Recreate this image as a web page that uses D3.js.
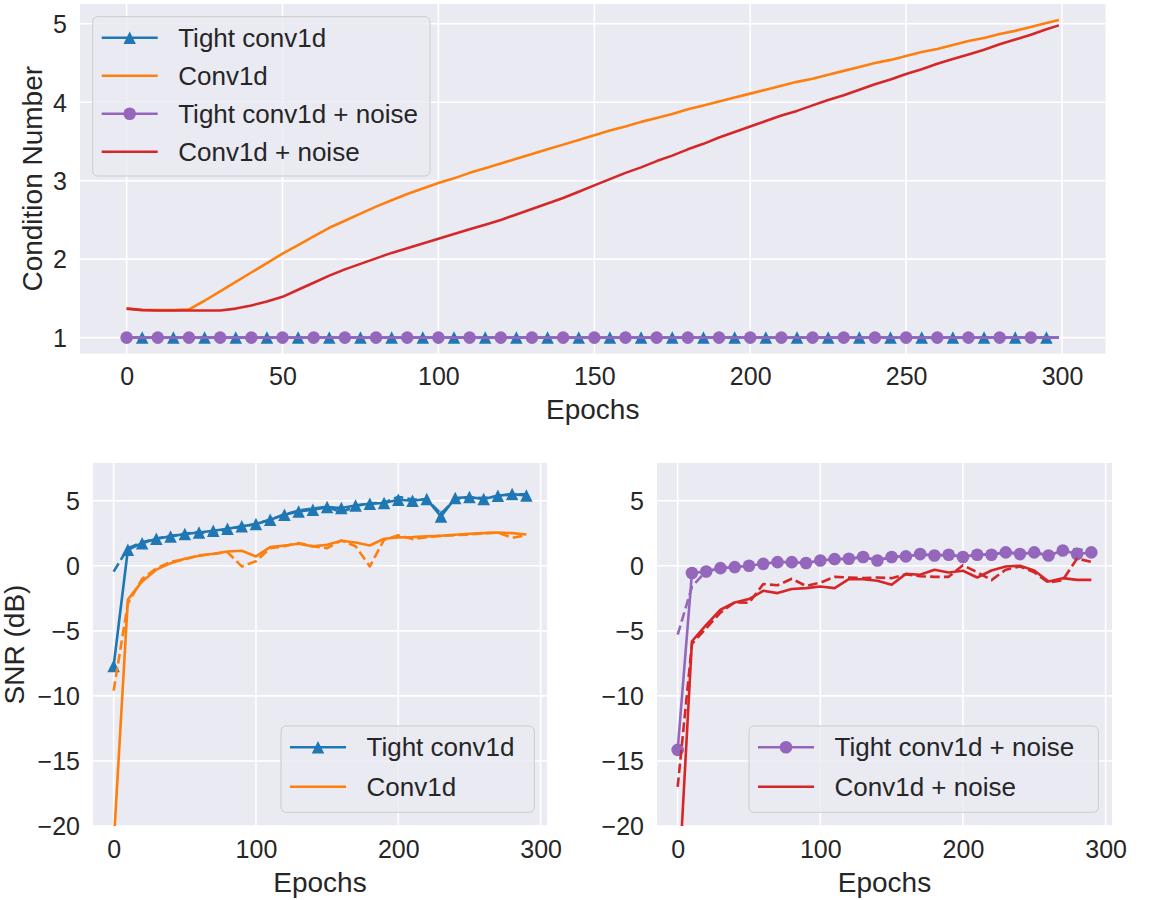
<!DOCTYPE html>
<html>
<head>
<meta charset="utf-8">
<script src="https://cdn.jsdelivr.net/npm/d3@7"></script>
<style>
  html, body { margin: 0; padding: 0; background: #ffffff; }
  svg { display: block; font-family: "Liberation Sans", Arial, Helvetica, sans-serif; }
</style>
</head>
<body>
<svg id="fig" width="1151" height="900"></svg>
<script>
// ---------- Condition number over training (sampled every 5 epochs, last epoch 299) ----------
const condEpochs = [0, 5, 10, 15, 20, 25, 30, 35, 40, 45, 50, 55, 60, 65, 70, 75, 80, 85, 90, 95,
  100, 105, 110, 115, 120, 125, 130, 135, 140, 145, 150, 155, 160, 165, 170, 175, 180, 185, 190, 195,
  200, 205, 210, 215, 220, 225, 230, 235, 240, 245, 250, 255, 260, 265, 270, 275, 280, 285, 290, 295, 299];

const condTight = [1, 1, 1, 1, 1, 1, 1, 1, 1, 1, 1, 1, 1, 1, 1, 1, 1, 1, 1, 1,
  1, 1, 1, 1, 1, 1, 1, 1, 1, 1, 1, 1, 1, 1, 1, 1, 1, 1, 1, 1,
  1, 1, 1, 1, 1, 1, 1, 1, 1, 1, 1, 1, 1, 1, 1, 1, 1, 1, 1, 1, 1];

const condConv = [1.37, 1.355, 1.35, 1.35, 1.36, 1.47, 1.59, 1.71, 1.83, 1.95, 2.07, 2.18, 2.29, 2.40, 2.49, 2.58, 2.67, 2.75, 2.83, 2.90,
  2.97, 3.03, 3.10, 3.16, 3.22, 3.28, 3.34, 3.40, 3.46, 3.52, 3.58, 3.64, 3.69, 3.75, 3.80, 3.85, 3.91, 3.96, 4.01, 4.06,
  4.11, 4.16, 4.21, 4.26, 4.30, 4.35, 4.40, 4.45, 4.50, 4.54, 4.59, 4.64, 4.68, 4.73, 4.78, 4.82, 4.87, 4.91, 4.96, 5.01, 5.05];

const condTightNoise = [1, 1, 1, 1, 1, 1, 1, 1, 1, 1, 1, 1, 1, 1, 1, 1, 1, 1, 1, 1,
  1, 1, 1, 1, 1, 1, 1, 1, 1, 1, 1, 1, 1, 1, 1, 1, 1, 1, 1, 1,
  1, 1, 1, 1, 1, 1, 1, 1, 1, 1, 1, 1, 1, 1, 1, 1, 1, 1, 1, 1, 1];

const condConvNoise = [1.37, 1.35, 1.345, 1.345, 1.345, 1.345, 1.345, 1.37, 1.41, 1.46, 1.52, 1.61, 1.70, 1.79, 1.87, 1.94, 2.01, 2.08, 2.14, 2.20,
  2.26, 2.32, 2.38, 2.44, 2.50, 2.57, 2.64, 2.71, 2.78, 2.86, 2.94, 3.02, 3.10, 3.17, 3.25, 3.32, 3.40, 3.47, 3.55, 3.62,
  3.69, 3.76, 3.83, 3.89, 3.96, 4.03, 4.09, 4.16, 4.23, 4.29, 4.36, 4.42, 4.49, 4.55, 4.61, 4.67, 4.74, 4.80, 4.86, 4.93, 4.98];

const condXTicks = [0, 50, 100, 150, 200, 250, 300];
const condYTicks = [1, 2, 3, 4, 5];

// ---------- SNR (dB), evaluated every 10 epochs; solid = train, dashed = validation ----------
const snrEpochs = [0, 10, 20, 30, 40, 50, 60, 70, 80, 90, 100, 110, 120, 130, 140,
  150, 160, 170, 180, 190, 200, 210, 220, 230, 240, 250, 260, 270, 280, 290];

const snrTight = [-7.7, 1.23, 1.74, 2.08, 2.26, 2.44, 2.56, 2.69, 2.85, 3.03, 3.21, 3.54, 3.92, 4.18, 4.31,
  4.51, 4.44, 4.64, 4.77, 4.82, 5.08, 5.0, 5.13, 3.79, 5.21, 5.28, 5.13, 5.38, 5.51, 5.41];
const snrTightDash = [-0.45, 1.35, 1.8, 2.1, 2.3, 2.45, 2.6, 2.4, 2.85, 3.0, 3.2, 3.55, 3.95, 4.25, 4.4,
  4.55, 4.1, 4.6, 4.8, 4.85, 5.3, 5.1, 5.1, 4.0, 5.1, 5.25, 5.2, 5.35, 5.5, 5.5];

const snrConv = [-21.5, -2.6, -1.2, -0.3, 0.2, 0.54, 0.77, 0.92, 1.1, 1.15, 0.72, 1.44, 1.56, 1.69, 1.49,
  1.62, 1.92, 1.79, 1.56, 2.08, 2.18, 2.2, 2.26, 2.31, 2.38, 2.46, 2.51, 2.56, 2.51, 2.41];
const snrConvDash = [-9.6, -2.9, -1.0, -0.2, 0.3, 0.5, 0.8, 0.9, 1.05, -0.05, 0.35, 1.35, 1.5, 1.75, 1.5,
  1.36, 1.95, 1.5, -0.05, 2.0, 2.35, 2.05, 2.2, 2.3, 2.35, 2.4, 2.5, 2.55, 2.15, 2.35];

const snrTightNoise = [-14.15, -0.56, -0.44, -0.18, -0.1, 0.0, 0.15, 0.28, 0.28, 0.21, 0.41, 0.51, 0.54, 0.67, 0.41,
  0.67, 0.72, 0.9, 0.79, 0.85, 0.67, 0.85, 0.85, 1.03, 0.9, 1.03, 0.79, 1.18, 0.9, 1.03];
const snrTightNoiseDash = [-5.3, -1.6, -0.4, -0.2, -0.1, 0.0, 0.2, 0.3, 0.25, 0.2, 0.4, 0.5, 0.55, 0.65, 0.45,
  0.65, 0.75, 0.85, 0.8, 0.85, 0.7, 0.85, 0.9, 1.05, 0.95, 1.0, 0.8, 1.15, 1.3, 1.1];

const snrConvNoise = [-26.0, -5.8, -4.54, -3.38, -2.82, -2.56, -1.92, -2.1, -1.79, -1.72, -1.59, -1.72, -1.03, -1.03, -1.15,
  -1.46, -0.62, -0.69, -0.31, -0.51, -0.38, -0.9, -0.36, -0.05, 0.0, -0.36, -1.21, -0.95, -1.08, -1.08];
const snrConvNoiseDash = [-17.0, -6.0, -4.8, -3.6, -2.8, -2.85, -1.4, -1.5, -1.0, -1.55, -1.3, -0.85, -0.9, -0.95, -0.9,
  -0.95, -0.65, -0.8, -0.85, -0.85, 0.05, -0.5, -1.1, -0.3, -0.05, -0.5, -1.3, -1.1, 0.55, 0.3];

const snrXTicks = [0, 100, 200, 300];
const snrYTicks = [-20, -15, -10, -5, 0, 5];

// ---------- styling ----------
const COLORS = { blue: "#1f77b4", orange: "#ff7f0e", purple: "#9467bd", red: "#d62728" };
const BG = "#eaeaf2";
const TEXT = "#262626";
const TICK_FS = 25;
const LABEL_FS = 28;
const LEGEND_FS = 26;
const LW = 2.6;
const TRI = 12.5;
const DOT_R = 6.3;
const intFmt = d3.format("d");

const svg = d3.select("#fig");

// pad a data extent the way matplotlib autoscale does (5% each side)
function padded(lo, hi) {
  const m = (hi - lo) * 0.05;
  return [lo - m, hi + m];
}

function makeAxes(id, box, xDomain, yDomain, xTicks, yTicks) {
  const g = svg.append("g");
  const x = d3.scaleLinear().domain(xDomain).range([box.left, box.right]);
  const y = d3.scaleLinear().domain(yDomain).range([box.bottom, box.top]);

  g.append("rect")
    .attr("x", box.left).attr("y", box.top)
    .attr("width", box.right - box.left).attr("height", box.bottom - box.top)
    .attr("fill", BG);

  // white grid
  g.append("g").selectAll("line").data(xTicks).join("line")
    .attr("x1", d => x(d)).attr("x2", d => x(d))
    .attr("y1", box.top).attr("y2", box.bottom)
    .attr("stroke", "#ffffff").attr("stroke-width", 1.6);
  g.append("g").selectAll("line").data(yTicks).join("line")
    .attr("y1", d => y(d)).attr("y2", d => y(d))
    .attr("x1", box.left).attr("x2", box.right)
    .attr("stroke", "#ffffff").attr("stroke-width", 1.6);

  // tick labels through d3 axes
  const xa = g.append("g").attr("transform", `translate(0,${box.bottom})`)
    .call(d3.axisBottom(x).tickValues(xTicks).tickFormat(intFmt).tickSize(0).tickPadding(14));
  const ya = g.append("g").attr("transform", `translate(${box.left},0)`)
    .call(d3.axisLeft(y).tickValues(yTicks).tickFormat(intFmt).tickSize(0).tickPadding(13));
  [xa, ya].forEach(a => {
    a.select(".domain").remove();
    a.selectAll("text")
      .attr("font-size", TICK_FS)
      .attr("font-family", "'Liberation Sans', Arial, sans-serif")
      .attr("fill", TEXT);
  });
  ya.selectAll("text").attr("dy", "0.35em");

  svg.append("defs").append("clipPath").attr("id", id)
    .append("rect")
    .attr("x", box.left).attr("y", box.top)
    .attr("width", box.right - box.left).attr("height", box.bottom - box.top);
  const plot = g.append("g").attr("clip-path", `url(#${id})`);

  return { g, x, y, plot, box };
}

function trianglePath(s) {
  const h = s / 2;
  return `M0,${-h}L${h},${h}L${-h},${h}Z`;
}

function drawSeries(ax, xs, ys, opt) {
  const pts = xs.map((e, i) => [e, ys[i]]);
  const line = d3.line().x(d => ax.x(d[0])).y(d => ax.y(d[1]));
  ax.plot.append("path")
    .attr("d", line(pts))
    .attr("fill", "none")
    .attr("stroke", opt.color)
    .attr("stroke-width", LW)
    .attr("stroke-linejoin", "round")
    .attr("stroke-dasharray", opt.dashed ? "9.6,4.2" : null);
  if (opt.marker) {
    const mp = opt.markEvery ? pts.filter(d => opt.markEvery(d[0])) : pts;
    if (opt.marker === "triangle") {
      ax.plot.append("g").selectAll("path").data(mp).join("path")
        .attr("d", trianglePath(TRI))
        .attr("transform", d => `translate(${ax.x(d[0])},${ax.y(d[1])})`)
        .attr("fill", opt.color);
    } else {
      ax.plot.append("g").selectAll("circle").data(mp).join("circle")
        .attr("cx", d => ax.x(d[0])).attr("cy", d => ax.y(d[1]))
        .attr("r", DOT_R)
        .attr("fill", opt.color);
    }
  }
}

function drawLegend(box, entries) {
  const g = svg.append("g");
  g.append("rect")
    .attr("x", box.x).attr("y", box.y)
    .attr("width", box.w).attr("height", box.h)
    .attr("rx", 5).attr("ry", 5)
    .attr("fill", BG).attr("fill-opacity", 0.8)
    .attr("stroke", "#cccccc").attr("stroke-width", 1);
  entries.forEach((en, i) => {
    const cy = box.y + box.first + i * box.step;
    const x0 = box.x + 9, x1 = x0 + 56, xm = (x0 + x1) / 2;
    g.append("line")
      .attr("x1", x0).attr("x2", x1).attr("y1", cy).attr("y2", cy)
      .attr("stroke", en.color).attr("stroke-width", LW);
    if (en.marker === "triangle") {
      g.append("path").attr("d", trianglePath(TRI))
        .attr("transform", `translate(${xm},${cy})`).attr("fill", en.color);
    } else if (en.marker === "circle") {
      g.append("circle").attr("cx", xm).attr("cy", cy).attr("r", DOT_R).attr("fill", en.color);
    }
    g.append("text")
      .attr("x", x1 + 20.5).attr("y", cy).attr("dy", "0.35em")
      .attr("font-size", LEGEND_FS).attr("fill", TEXT)
      .text(en.label);
  });
}

// ================= Top: condition number =================
const condAll = condConv.concat(condConvNoise, condTight, condTightNoise);
const condAx = makeAxes("clipCond",
  { left: 80, right: 1105.5, top: 4, bottom: 353.5 },
  padded(d3.min(condEpochs), d3.max(condEpochs)),
  padded(d3.min(condAll), d3.max(condAll)),
  condXTicks, condYTicks);

drawSeries(condAx, condEpochs, condTight, { color: COLORS.blue, marker: "triangle", markEvery: e => e % 10 === 5 });
drawSeries(condAx, condEpochs, condConv, { color: COLORS.orange });
drawSeries(condAx, condEpochs, condTightNoise, { color: COLORS.purple, marker: "circle", markEvery: e => e % 10 === 0 });
drawSeries(condAx, condEpochs, condConvNoise, { color: COLORS.red });

svg.append("text")
  .attr("x", (condAx.box.left + condAx.box.right) / 2).attr("y", 419)
  .attr("text-anchor", "middle").attr("font-size", LABEL_FS).attr("fill", TEXT)
  .text("Epochs");
svg.append("text")
  .attr("transform", `translate(42,${(condAx.box.top + condAx.box.bottom) / 2}) rotate(-90)`)
  .attr("text-anchor", "middle").attr("font-size", LABEL_FS).attr("fill", TEXT)
  .text("Condition Number");

drawLegend({ x: 92.7, y: 16.7, w: 337.3, h: 159.3, first: 21, step: 38 }, [
  { label: "Tight conv1d", color: COLORS.blue, marker: "triangle" },
  { label: "Conv1d", color: COLORS.orange },
  { label: "Tight conv1d + noise", color: COLORS.purple, marker: "circle" },
  { label: "Conv1d + noise", color: COLORS.red }
]);

// ================= Bottom: SNR =================
const snrXDomain = padded(d3.min(snrEpochs), d3.max(snrEpochs));
const snrYDomain = [-20, 7.9];

const snrAxL = makeAxes("clipSnrL", { left: 93, right: 547, top: 463, bottom: 826 },
  snrXDomain, snrYDomain, snrXTicks, snrYTicks);
drawSeries(snrAxL, snrEpochs, snrTight, { color: COLORS.blue, marker: "triangle" });
drawSeries(snrAxL, snrEpochs, snrTightDash, { color: COLORS.blue, dashed: true });
drawSeries(snrAxL, snrEpochs, snrConv, { color: COLORS.orange });
drawSeries(snrAxL, snrEpochs, snrConvDash, { color: COLORS.orange, dashed: true });

const snrAxR = makeAxes("clipSnrR", { left: 657, right: 1112, top: 463, bottom: 826 },
  snrXDomain, snrYDomain, snrXTicks, snrYTicks);
drawSeries(snrAxR, snrEpochs, snrTightNoise, { color: COLORS.purple, marker: "circle" });
drawSeries(snrAxR, snrEpochs, snrTightNoiseDash, { color: COLORS.purple, dashed: true });
drawSeries(snrAxR, snrEpochs, snrConvNoise, { color: COLORS.red });
drawSeries(snrAxR, snrEpochs, snrConvNoiseDash, { color: COLORS.red, dashed: true });

[snrAxL, snrAxR].forEach(ax => {
  svg.append("text")
    .attr("x", (ax.box.left + ax.box.right) / 2).attr("y", 891.5)
    .attr("text-anchor", "middle").attr("font-size", LABEL_FS).attr("fill", TEXT)
    .text("Epochs");
});
svg.append("text")
  .attr("transform", `translate(24,${(snrAxL.box.top + snrAxL.box.bottom) / 2}) rotate(-90)`)
  .attr("text-anchor", "middle").attr("font-size", LABEL_FS).attr("fill", TEXT)
  .text("SNR (dB)");

drawLegend({ x: 281, y: 726, w: 253.3, h: 86.3, first: 21.3, step: 39.4 }, [
  { label: "Tight conv1d", color: COLORS.blue, marker: "triangle" },
  { label: "Conv1d", color: COLORS.orange }
]);
drawLegend({ x: 749, y: 726, w: 349.3, h: 86.3, first: 21.3, step: 39.4 }, [
  { label: "Tight conv1d + noise", color: COLORS.purple, marker: "circle" },
  { label: "Conv1d + noise", color: COLORS.red }
]);
</script>
</body>
</html>
